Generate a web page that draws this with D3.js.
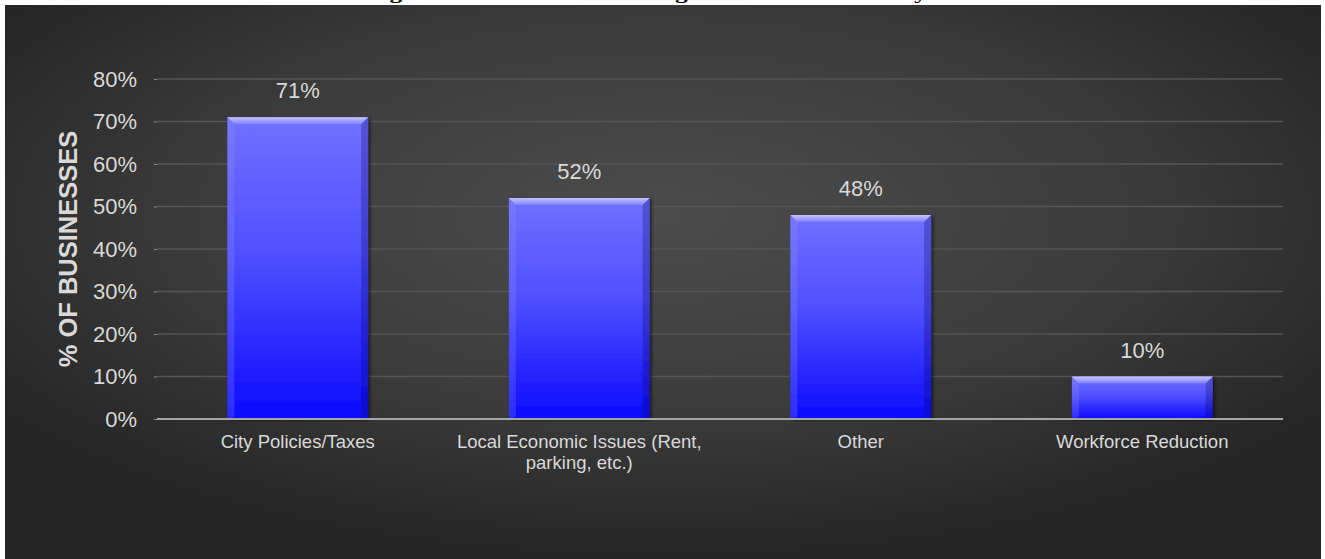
<!DOCTYPE html>
<html>
<head>
<meta charset="utf-8">
<script src="https://cdn.jsdelivr.net/npm/d3@7"></script>
<style>
  html, body { margin: 0; padding: 0; background: #ffffff; }
  svg { display: block; }
</style>
</head>
<body>
<svg id="chart" width="1325" height="559"></svg>
<script>
// Reasons businesses gave for moving out of the city
const categories = [
  "City Policies/Taxes",
  "Local Economic Issues (Rent, parking, etc.)",
  "Other",
  "Workforce Reduction"
];
const shares = [71, 52, 48, 10];
const yTicks = [0, 10, 20, 30, 40, 50, 60, 70, 80];
const titleText = "Figure 3: Reasons for Moving a Business out of City";
const yAxisTitle = "% OF BUSINESSES";

const W = 1325, H = 559;
const margin = { top: 79, right: 42, bottom: 140, left: 157 };
const plotW = W - margin.left - margin.right;   // 1126
const plotH = H - margin.top - margin.bottom;   // 340

const svg = d3.select("#chart");
const defs = svg.append("defs");

// Dark panel with a soft lighter centre
const bg = defs.append("radialGradient")
  .attr("id", "bgGrad")
  .attr("cx", "50%").attr("cy", "38%").attr("r", "62%")
  .attr("fx", "50%").attr("fy", "38%");
bg.append("stop").attr("offset", "0%").attr("stop-color", "#4c4c4c");
bg.append("stop").attr("offset", "55%").attr("stop-color", "#3c3c3c");
bg.append("stop").attr("offset", "100%").attr("stop-color", "#252525");

// Bar body: lighter blue at top to saturated blue at the base
const barGrad = defs.append("linearGradient")
  .attr("id", "barGrad").attr("x1", 0).attr("y1", 0).attr("x2", 0).attr("y2", 1);
barGrad.append("stop").attr("offset", "0%").attr("stop-color", "#7070ff");
barGrad.append("stop").attr("offset", "45%").attr("stop-color", "#5050ff");
barGrad.append("stop").attr("offset", "100%").attr("stop-color", "#0a0aff");

const topBevel = defs.append("linearGradient")
  .attr("id", "topBevel").attr("x1", 0).attr("y1", 0).attr("x2", 0).attr("y2", 1);
topBevel.append("stop").attr("offset", "0%").attr("stop-color", "#d0d0ff");
topBevel.append("stop").attr("offset", "100%").attr("stop-color", "#8080ff");

const shadow = defs.append("filter").attr("id", "barShadow")
  .attr("x", "-10%").attr("y", "-10%").attr("width", "130%").attr("height", "130%");
shadow.append("feDropShadow")
  .attr("dx", 2).attr("dy", 1).attr("stdDeviation", 1.5)
  .attr("flood-color", "#000000").attr("flood-opacity", 0.55);

// Background panel
svg.append("rect")
  .attr("x", 5).attr("y", 5)
  .attr("width", 1316).attr("height", H - 5)
  .attr("fill", "url(#bgGrad)");

// Title sits above the panel, mostly beyond the top edge
svg.append("text")
  .attr("x", 367).attr("y", -1)
  .attr("textLength", 560)
  .attr("lengthAdjust", "spacingAndGlyphs")
  .attr("font-family", "Liberation Serif, Times New Roman, serif")
  .attr("font-weight", "bold")
  .attr("font-size", 17)
  .attr("fill", "#000000")
  .text(titleText);

const g = svg.append("g").attr("transform", `translate(${margin.left},${margin.top})`);

const x = d3.scaleBand()
  .domain(categories)
  .range([0, plotW])
  .paddingInner(0.5)
  .paddingOuter(0.25);

const y = d3.scaleLinear().domain([0, 80]).range([plotH, 0]);

// Gridlines
g.append("g")
  .selectAll("line")
  .data(yTicks.filter(t => t > 0))
  .join("line")
  .attr("x1", 0).attr("x2", plotW)
  .attr("y1", d => y(d)).attr("y2", d => y(d))
  .attr("stroke", "#555555")
  .attr("stroke-width", 1.5);

// Y axis
const yAxis = d3.axisLeft(y)
  .tickValues(yTicks)
  .tickFormat(d => d + "%")
  .tickSize(3)
  .tickPadding(17);
const yAxisG = g.append("g").call(yAxis);
yAxisG.select(".domain").remove();
yAxisG.selectAll(".tick line").attr("stroke", "#8c8c8c");
yAxisG.selectAll(".tick text")
  .attr("fill", "#d9d9d9")
  .attr("font-family", "Liberation Sans, Arial, sans-serif")
  .attr("font-size", 22);

// Y axis title
svg.append("text")
  .attr("transform", `translate(77, ${margin.top + plotH / 2}) rotate(-90)`)
  .attr("text-anchor", "middle")
  .attr("font-family", "Liberation Sans, Arial, sans-serif")
  .attr("font-weight", "bold")
  .attr("font-size", 25.5)
  .attr("fill", "#d9d9d9")
  .text(yAxisTitle);

// Bars
const bevel = 7;
const bars = g.append("g").selectAll("g.bar")
  .data(categories.map((c, i) => ({ c, v: shares[i] })))
  .join("g")
  .attr("class", "bar")
  .attr("filter", "url(#barShadow)");

bars.append("rect")
  .attr("x", d => x(d.c))
  .attr("y", d => y(d.v))
  .attr("width", x.bandwidth())
  .attr("height", d => plotH - y(d.v))
  .attr("fill", "url(#barGrad)");

// Top bevel highlight
bars.append("path")
  .attr("d", d => {
    const x0 = x(d.c), x1 = x0 + x.bandwidth(), t = y(d.v);
    return `M${x0},${t}L${x1},${t}L${x1 - bevel},${t + bevel}L${x0 + bevel},${t + bevel}Z`;
  })
  .attr("fill", "url(#topBevel)")
  .attr("opacity", 0.9);

// Side bevels
bars.append("path")
  .attr("d", d => {
    const x0 = x(d.c), t = y(d.v);
    return `M${x0},${t}L${x0 + bevel},${t + bevel}L${x0 + bevel},${plotH - 2}L${x0},${plotH}Z`;
  })
  .attr("fill", "#9090ff")
  .attr("opacity", 0.25);
bars.append("path")
  .attr("d", d => {
    const x1 = x(d.c) + x.bandwidth(), t = y(d.v);
    return `M${x1},${t}L${x1 - bevel},${t + bevel}L${x1 - bevel},${plotH - 2}L${x1},${plotH}Z`;
  })
  .attr("fill", "#000050")
  .attr("opacity", 0.25);

// Value labels
g.append("g").selectAll("text")
  .data(categories.map((c, i) => ({ c, v: shares[i] })))
  .join("text")
  .attr("x", d => x(d.c) + x.bandwidth() / 2)
  .attr("y", d => y(d.v) - 19)
  .attr("text-anchor", "middle")
  .attr("font-family", "Liberation Sans, Arial, sans-serif")
  .attr("font-size", 22)
  .attr("fill", "#d9d9d9")
  .text(d => d.v + "%");

// Baseline
g.append("line")
  .attr("x1", 0).attr("x2", plotW)
  .attr("y1", plotH).attr("y2", plotH)
  .attr("stroke", "#a6a6a6")
  .attr("stroke-width", 2);

// Category labels, wrapped to fit the band
const xAxisG = g.append("g").attr("transform", `translate(0,${plotH})`);
const catText = xAxisG.selectAll("text")
  .data(categories)
  .join("text")
  .attr("x", d => x(d) + x.bandwidth() / 2)
  .attr("y", 29)
  .attr("text-anchor", "middle")
  .attr("font-family", "Liberation Sans, Arial, sans-serif")
  .attr("font-size", 18.5)
  .attr("fill", "#d9d9d9");

catText.each(function(d) {
  const el = d3.select(this);
  const words = d.split(" ");
  const maxW = 265;
  let line = [];
  let tspan = el.append("tspan").attr("x", x(d) + x.bandwidth() / 2).attr("dy", 0);
  words.forEach(w => {
    line.push(w);
    tspan.text(line.join(" "));
    if (tspan.node().getComputedTextLength() > maxW && line.length > 1) {
      line.pop();
      tspan.text(line.join(" "));
      line = [w];
      tspan = el.append("tspan")
        .attr("x", x(d) + x.bandwidth() / 2)
        .attr("dy", 21)
        .text(w);
    }
  });
});
</script>
</body>
</html>
